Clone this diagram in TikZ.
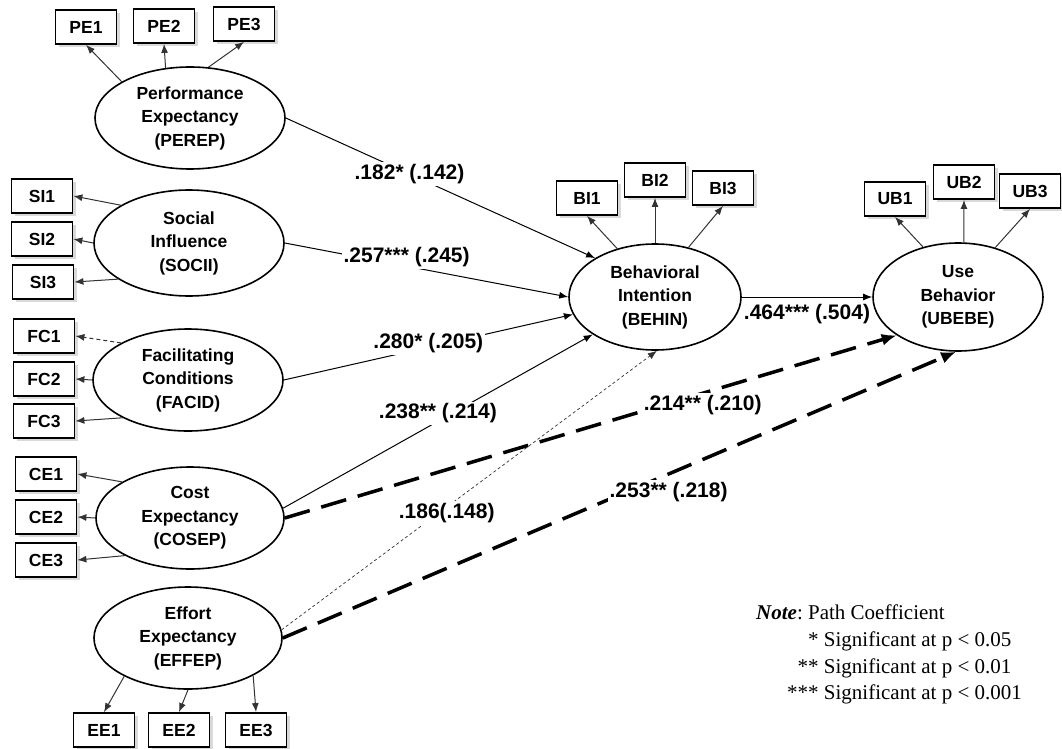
\documentclass[tikz,border=0pt]{standalone}
\usepackage{fontspec}
\setmainfont{Liberation Sans}
\newfontfamily\notefont{Liberation Serif}
\usepackage{tikz}
\usetikzlibrary{arrows.meta,shapes.geometric,shadows}
\frenchspacing
\tikzstyle{lat_v} = [ellipse, draw=black, line width=1.6pt, fill=white, align=center, inner sep=0pt, minimum width=190pt, minimum height=102pt, font=\fontsize{17.5}{23.5}\selectfont\bfseries]
\tikzstyle{ind_b} = [rectangle, draw=black, line width=1.8pt, fill=white, inner sep=0pt, minimum width=61pt, minimum height=34pt, font=\fontsize{17.5}{20}\selectfont\bfseries, drop shadow={shadow xshift=3pt, shadow yshift=-3pt, fill=black!15, opacity=1}]
\tikzstyle{ind_a} = [->, line width=1pt, draw=black!80]
\tikzstyle{str_p} = [->, line width=1pt]
\tikzstyle{str_d} = [->, line width=3.5pt, dash pattern=on 26pt off 12pt, >={Latex[length=15pt,width=12pt]}]
\tikzstyle{p_lab} = [fill=white, inner sep=2pt, font=\fontsize{21}{24}\selectfont\bfseries]

\begin{document}
\begin{tikzpicture}[x=1pt, y=-1pt, >={Latex[length=9pt,width=7pt]}]
\useasboundingbox (0,0) rectangle (1062,749);

% latent variables
\node [lat_v] (PEREP) at (190,118) {Performance\\Expectancy\\(PEREP)};
\node [lat_v, minimum height=106pt] (SOCII) at (189,243) {Social\\Influence\\(SOCII)};
\node [lat_v] (FACID) at (188,380) {Facilitating\\Conditions\\(FACID)};
\node [lat_v, minimum width=188pt] (COSEP) at (190,518) {Cost\\Expectancy\\(COSEP)};
\node [lat_v, minimum width=188pt] (EFFEP) at (188,638) {Effort\\Expectancy\\(EFFEP)};
\node [lat_v, minimum width=172pt, minimum height=106pt] (BEHIN) at (655,297) {Behavioral\\Intention\\(BEHIN)};
\node [lat_v, minimum width=170pt, minimum height=108pt] (UBEBE) at (958,297) {Use\\Behavior\\(UBEBE)};

% indicators
\node [ind_b] (PE1) at (86,27) {PE1};
\node [ind_b] (PE2) at (164,26) {PE2};
\node [ind_b] (PE3) at (244,24) {PE3};
\node [ind_b] (SI1) at (42,196) {SI1};
\node [ind_b] (SI2) at (42,239) {SI2};
\node [ind_b] (SI3) at (43,282) {SI3};
\node [ind_b] (FC1) at (44,336) {FC1};
\node [ind_b] (FC2) at (44,379) {FC2};
\node [ind_b] (FC3) at (44,421) {FC3};
\node [ind_b] (CE1) at (46,474) {CE1};
\node [ind_b] (CE2) at (46,517) {CE2};
\node [ind_b] (CE3) at (46,560) {CE3};
\node [ind_b] (EE1) at (104,730) {EE1};
\node [ind_b] (EE2) at (179,730) {EE2};
\node [ind_b] (EE3) at (256,730) {EE3};
\node [ind_b] (BI1) at (587,198) {BI1};
\node [ind_b] (BI2) at (655,180) {BI2};
\node [ind_b] (BI3) at (723,188) {BI3};
\node [ind_b] (UB1) at (895,199) {UB1};
\node [ind_b] (UB2) at (964,182) {UB2};
\node [ind_b] (UB3) at (1030,191) {UB3};

% loadings
\draw [ind_a] (PEREP.152) -- (PE1.south);
\draw [ind_a] (PEREP.116) -- (PE2.south);
\draw [ind_a] (PEREP.70) -- (PE3.south);
\draw [ind_a] (SOCII.151) -- (SI1.east);
\draw [ind_a] (SOCII.west) -- (SI2.east);
\draw [ind_a] (SOCII.207) -- (SI3.east);
\draw [ind_a, dash pattern=on 4pt off 3pt] (FACID.151) -- (FC1.east);
\draw [ind_a] (FACID.west) -- (FC2.east);
\draw [ind_a] (FACID.210) -- (FC3.east);
\draw [ind_a] (COSEP.152) -- (CE1.east);
\draw [ind_a] (COSEP.west) -- (CE2.east);
\draw [ind_a] (COSEP.210) -- (CE3.east);
\draw [ind_a] (EFFEP.211) -- (EE1.north);
\draw [ind_a] (EFFEP.270) -- (EE2.north);
\draw [ind_a] (EFFEP.330) -- (EE3.north);
\draw [ind_a] (BEHIN.128) -- (BI1.south);
\draw [ind_a] (BEHIN.north) -- (BI2.south);
\draw [ind_a] (BEHIN.56) -- (BI3.south);
\draw [ind_a] (UBEBE.125) -- (UB1.south);
\draw [ind_a] (UBEBE.84) -- (UB2.south);
\draw [ind_a] (UBEBE.53) -- (UB3.south);

% structural paths
\draw [str_p] (PEREP.east) -- node [p_lab, pos=0.4] {.182* (.142)} (BEHIN.147);
\draw [str_p] (SOCII.east) -- node [p_lab, pos=0.43, yshift=9pt] {.257*** (.245)} (BEHIN.west);
\draw [str_p] (FACID.east) -- node [p_lab, pos=0.5, yshift=4pt] {.280* (.205)} (BEHIN.192);
\draw [str_p] (COSEP.6) -- node [p_lab, pos=0.5, yshift=8pt] {.238** (.214)} (BEHIN.211);
\draw [->, line width=0.7pt, draw=black!80, dash pattern=on 3pt off 2.5pt] (EFFEP.5) -- node [p_lab, pos=0.44, yshift=-6pt] {.186(.148)} (BEHIN.272);
\draw [str_p] (BEHIN.east) -- node [p_lab, fill=none, below, yshift=-5pt] {.464*** (.504)} (UBEBE.west);
\draw [str_d] (COSEP.east) -- node [p_lab, pos=0.683, yshift=-12pt] {.214** (.210)} (UBEBE.212);
\draw [str_d] (EFFEP.east) -- node [p_lab, pos=0.573, yshift=-18pt] {.253** (.218)} (UBEBE.268);

% note
\node [anchor=north west, inner sep=0pt, font=\notefont\fontsize{21}{26.7}\selectfont] (note) at (756,601) {\begin{tabular}{@{\hspace{31pt}}r@{ }l@{}}
\multicolumn{2}{@{}l@{}}{\textbf{\textit{Note}}: Path Coefficient}\\
{*} & Significant at p < 0.05\\
{**} & Significant at p < 0.01\\
{***} & Significant at p < 0.001
\end{tabular}};
\end{tikzpicture}
\end{document}
